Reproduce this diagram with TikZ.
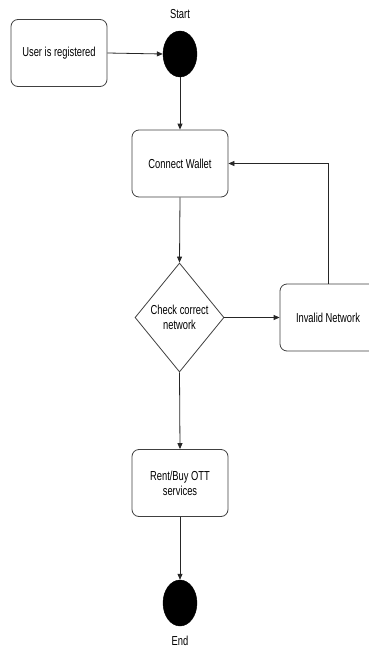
\documentclass[tikz,border=0pt]{standalone}
\usepackage{fontspec}
\setmainfont[FakeStretch=0.72]{Liberation Sans}
\usetikzlibrary{arrows.meta,shapes.geometric}
\tikzset{
  box/.style={draw=black!75, line width=0.8pt, rounded corners=7pt, fill=white,
    minimum width=96pt, minimum height=67pt, align=center, inner sep=2pt},
  dot/.style={ellipse, fill=black, draw=black, minimum width=34pt, minimum height=46pt, inner sep=0pt},
  check/.style={diamond, draw=black!75, line width=0.8pt, fill=white, aspect=0.82,
    minimum width=89pt, minimum height=109pt, align=center, inner sep=0pt},
  flow/.style={draw=black!85, line width=0.8pt, -{Triangle[length=6pt,width=5pt]}},
  lbl/.style={font=\fontsize{13}{15}\selectfont}
}
\begin{document}
\begin{tikzpicture}[x=1pt,y=-1pt, every node/.style={font=\fontsize{13}{15}\selectfont}]
  \useasboundingbox (0,0) rectangle (369,648);
  \begin{scope}
    \clip (0,0) rectangle (369,648);
    \node[box] (user) at (59,53) {User is registered};
    \node[dot] (start) at (180,54) {};
    \node[lbl] (startlbl) at (180,14) {Start};
    \node[box] (wallet) at (180,163.5) {Connect Wallet};
    \node[check] (check) at (179.5,317.5) {Check correct\\network};
    \node[box] (invalid) at (328,317.5) {Invalid Network};
    \node[box] (rent) at (180,483) {Rent/Buy OTT\\services};
    \node[dot] (end) at (180,603) {};
    \node[lbl] (endlbl) at (180,641) {End};

    \draw[flow] (user.east) -- (start.west);
    \draw[flow] (start.south) -- (wallet.north);
    \draw[flow] (wallet.south) -- (check.north);
    \draw[flow] (check.east) -- (invalid.west);
    \draw[flow] (invalid.north) |- (wallet.east);
    \draw[flow] (check.south) -- (rent.north);
    \draw[flow] (rent.south) -- (end.north);
  \end{scope}
\end{tikzpicture}
\end{document}
